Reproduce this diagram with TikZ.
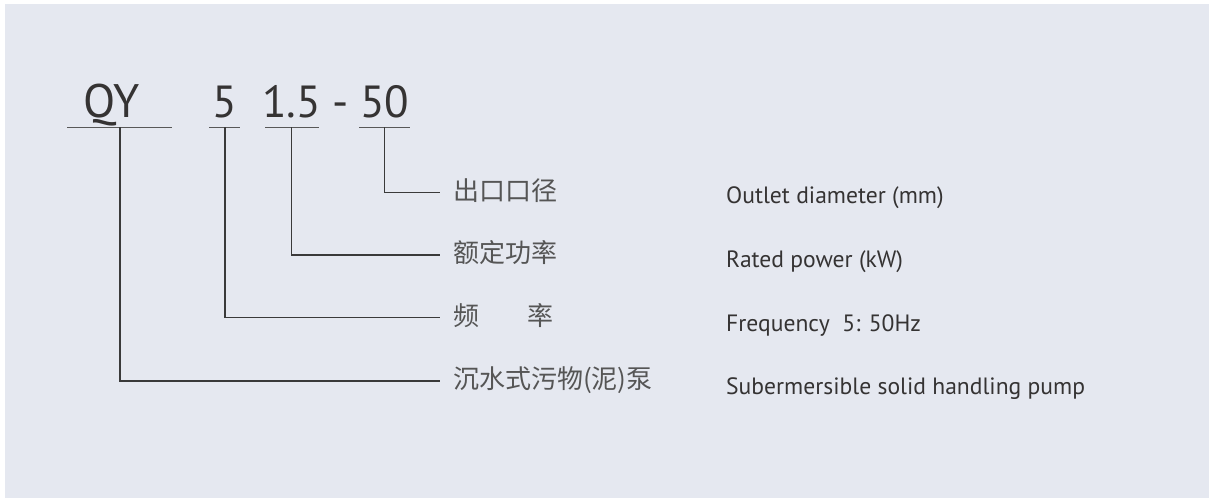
\documentclass[tikz,border=0pt]{standalone}
\usepackage{fontspec}
\setmainfont{PT Sans}
\newfontfamily\cjk{Noto Sans CJK SC}
\definecolor{bg}{HTML}{E5E8F0}
\definecolor{txt}{HTML}{353333}
\definecolor{cjktxt}{HTML}{555555}
\definecolor{ln}{HTML}{3A3A3A}
\begin{document}
\begin{tikzpicture}[x=1pt,y=-1pt,
  code/.style={anchor=base west,inner sep=0pt,text=txt,font=\fontsize{45}{45}\selectfont},
  uline/.style={draw=ln!85,line width=1.5pt},
  conn/.style={draw=ln,line width=1.2pt},
  cn/.style={anchor=west,inner xsep=13pt,inner ysep=0pt,text height=14.6pt,text depth=0pt,text=cjktxt,font=\cjk\fontsize{26}{26}\selectfont},
  en/.style={anchor=base west,inner sep=0pt,text=txt,font=\fontsize{23.6}{23.6}\selectfont}]
\useasboundingbox (0,0) rectangle (1211,501);
\fill[white] (0,0) rectangle (1211,501);
\fill[bg] (5,4) rectangle (1209,498);
% code parts
\node[code] (qy) at (83,117) {\fontsize{47}{47}\selectfont QY};
\node[code] (five) at (212,117) {5};
\node[code] (pw) at (262,117) {1.5};
\node[code] (dash) at (332,117) {-};
\node[code] (dia) at (360,117) {50};
% underlines
\coordinate (uqyL) at (67,127.3);   \coordinate (uqyR) at (172,127.3);
\coordinate (u5L) at (209,127.3);   \coordinate (u5R) at (240,127.3);
\coordinate (upL) at (265,127.3);   \coordinate (upR) at (319,127.3);
\coordinate (udL) at (359,127.3);   \coordinate (udR) at (410,127.3);
\draw[uline] (uqyL) -- (uqyR);
\draw[uline] (u5L) -- (u5R);
\draw[uline] (upL) -- (upR);
\draw[uline] (udL) -- (udR);
\coordinate (tqy) at (120,127.3);
\coordinate (t5) at (225,127.3);
\coordinate (tp) at (291.5,127.3);
\coordinate (td) at (384.5,127.3);
% chinese labels
\node[cn] (c1) at (440,192.7) {出口口径};
\node[cn] (c2) at (440,255) {额定功率};
\node[cn] (c3) at (440,317.7) {频\hspace{48pt}率};
\node[cn] (c4) at (440,381) {沉水式污物(泥)泵};
% connectors
\draw[conn] (td) |- (c1.west);
\draw[conn] (tp) |- (c2.west);
\draw[conn] (t5) |- (c3.west);
\draw[conn] (tqy) |- (c4.west);
% english labels
\node[en] (e1) at (726,203) {Outlet diameter (mm)};
\node[en] (e2) at (726,267) {Rated power (kW)};
\node[en] (e3) at (726,331) {Frequency\ \ 5: 50Hz};
\node[en] (e4) at (726,394) {Subermersible solid handling pump};
\end{tikzpicture}
\end{document}
